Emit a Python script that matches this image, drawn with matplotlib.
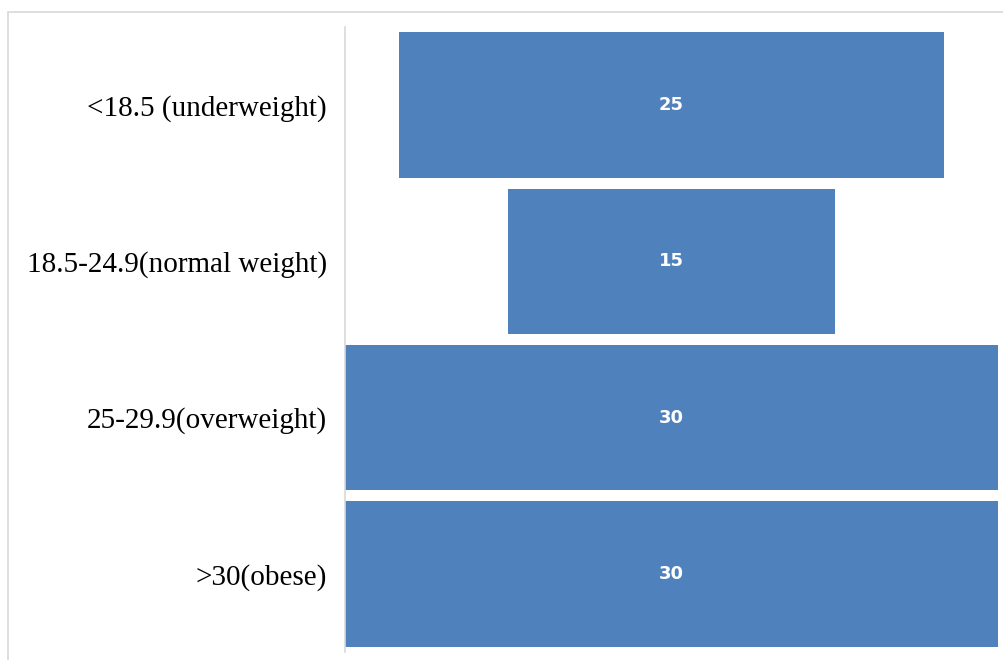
import numpy as np
import matplotlib.pyplot as plt
from matplotlib.patches import Rectangle

# bmi groups and counts
categories = ["<18.5 (underweight)", "18.5-24.9(normal weight)",
              "25-29.9(overweight)", ">30(obese)"]
counts = [25, 15, 30, 30]

W, H = 1004, 660
fig = plt.figure(figsize=(W / 100, H / 100), dpi=100)

# outer chart-area frame (only top/left edges visible)
fig.patches.append(Rectangle((8 / W, -0.1), 1.2, 1 - 12 / H + 0.1,
                             transform=fig.transFigure, fill=False,
                             edgecolor="#d9d9d9", linewidth=1.2))

ax = fig.add_axes([345 / W, 1 - 652 / H, (998 - 345) / W, (652 - 27) / H])

vmax = max(counts)
y = np.arange(len(categories))
left = [(vmax - c) / 2 for c in counts]
ax.barh(y, counts, left=left, height=0.93, color="#4f81bd")

for yi, c in zip(y, counts):
    ax.text(vmax / 2, yi, str(c), ha="center", va="center",
            color="white", fontsize=13, fontweight="semibold",
            family="DejaVu Sans")

ax.set_xlim(0, vmax)
ax.set_ylim(3.5, -0.5)
ax.set_yticks(y)
ax.set_yticklabels(categories, family="Liberation Serif", fontsize=21)
ax.tick_params(axis="y", length=0, pad=13)
ax.set_xticks([])
for s in ["top", "right", "bottom"]:
    ax.spines[s].set_visible(False)
ax.spines["left"].set_color("#d9d9d9")
ax.spines["left"].set_linewidth(1.2)

fig.savefig("out.png", dpi=100)
